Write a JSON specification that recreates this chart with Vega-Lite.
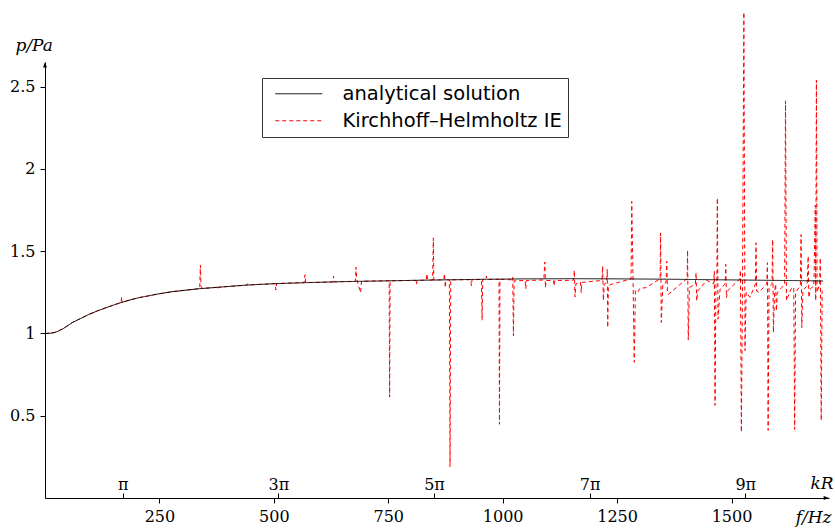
{
  "$schema": "https://vega.github.io/schema/vega-lite/v6.json",
  "width": 784,
  "height": 436,
  "autosize": {"type": "none"},
  "padding": {"left": 45, "top": 62, "right": 6, "bottom": 30},
  "background": "white",
  "config": {
    "view": {"stroke": null},
    "axis": {"grid": false, "domainColor": "black", "tickColor": "black", "labelColor": "black", "titleColor": "black", "labelFont": "DejaVu Serif", "labelFontSize": 16, "titleFont": "DejaVu Serif", "titleFontSize": 17, "titleFontWeight": "normal", "titleFontStyle": "italic", "tickSize": 5, "domainWidth": 1, "tickWidth": 1}
  },
  "datasets": {
    "kh": [
      {"f":0,"p":1.0},{"f":20,"p":1.005},{"f":40,"p":1.03},{"f":60,"p":1.067},{"f":80,"p":1.094},{"f":97,"p":1.117},{"f":115,"p":1.138},{"f":134,"p":1.157},{"f":150,"p":1.173},{"f":166,"p":1.188},{"f":167.5,"p":1.222},{"f":168.5,"p":1.186},{"f":171,"p":1.192},{"f":190,"p":1.207},{"f":206,"p":1.218},{"f":225,"p":1.228},{"f":243,"p":1.238},{"f":260,"p":1.246},{"f":278,"p":1.254},{"f":310,"p":1.264},{"f":338,"p":1.273},{"f":339.5,"p":1.415},{"f":341,"p":1.285},{"f":344,"p":1.274},{"f":375,"p":1.28},{"f":377,"p":1.268},{"f":379,"p":1.281},{"f":388,"p":1.283},{"f":441,"p":1.294},{"f":442.5,"p":1.302},{"f":444,"p":1.295},{"f":497,"p":1.302},{"f":503,"p":1.303},{"f":504.5,"p":1.264},{"f":506,"p":1.304},{"f":566,"p":1.309},{"f":568,"p":1.357},{"f":569.5,"p":1.309},{"f":600,"p":1.311},{"f":629,"p":1.313},{"f":630.5,"p":1.349},{"f":632,"p":1.314},{"f":650,"p":1.315},{"f":678,"p":1.317},{"f":679.5,"p":1.403},{"f":681,"p":1.33},{"f":689.5,"p":1.248},{"f":691.5,"p":1.318},{"f":750,"p":1.32},{"f":752,"p":1.32},{"f":753,"p":0.613},{"f":754,"p":1.32},{"f":810,"p":1.323},{"f":811.5,"p":1.299},{"f":813,"p":1.323},{"f":833,"p":1.324},{"f":834.5,"p":1.363},{"f":836,"p":1.324},{"f":847,"p":1.325},{"f":848.5,"p":1.581},{"f":849.5,"p":1.325},{"f":871,"p":1.326},{"f":873,"p":1.363},{"f":874.5,"p":1.278},{"f":876,"p":1.326},{"f":883.5,"p":1.326},{"f":885,"p":0.19},{"f":886.5,"p":1.326},{"f":930,"p":1.327},{"f":931.5,"p":1.289},{"f":933,"p":1.327},{"f":953.5,"p":1.328},{"f":955,"p":1.081},{"f":956.5,"p":1.328},{"f":963,"p":1.328},{"f":964.5,"p":1.349},{"f":966,"p":1.328},{"f":990,"p":1.329},{"f":992,"p":1.329},{"f":993,"p":0.448},{"f":994,"p":1.329},{"f":1020,"p":1.326},{"f":1022,"p":1.343},{"f":1023.5,"p":0.986},{"f":1025,"p":1.32},{"f":1049,"p":1.322},{"f":1050.5,"p":1.272},{"f":1052,"p":1.322},{"f":1090,"p":1.325},{"f":1092,"p":1.434},{"f":1093.5,"p":1.278},{"f":1095,"p":1.322},{"f":1111,"p":1.322},{"f":1112.5,"p":1.289},{"f":1114,"p":1.322},{"f":1150,"p":1.323},{"f":1155,"p":1.325},{"f":1156.5,"p":1.384},{"f":1158,"p":1.222},{"f":1160,"p":1.3},{"f":1165,"p":1.31},{"f":1170,"p":1.312},{"f":1171.5,"p":1.248},{"f":1173,"p":1.31},{"f":1200,"p":1.318},{"f":1217,"p":1.322},{"f":1218.5,"p":1.41},{"f":1220,"p":1.2},{"f":1222,"p":1.3},{"f":1227,"p":1.31},{"f":1228.5,"p":1.39},{"f":1229.5,"p":1.036},{"f":1231,"p":1.29},{"f":1237,"p":1.298},{"f":1277,"p":1.329},{"f":1280.5,"p":1.33},{"f":1282,"p":1.803},{"f":1285,"p":1.3},{"f":1287.5,"p":0.825},{"f":1290,"p":1.26},{"f":1295,"p":1.25},{"f":1300,"p":1.275},{"f":1313,"p":1.278},{"f":1342,"p":1.329},{"f":1344,"p":1.33},{"f":1345,"p":1.611},{"f":1346.5,"p":1.067},{"f":1350,"p":1.3},{"f":1357,"p":1.31},{"f":1358.5,"p":1.44},{"f":1360,"p":1.248},{"f":1362,"p":1.238},{"f":1401,"p":1.329},{"f":1403,"p":1.33},{"f":1404,"p":1.506},{"f":1405.5,"p":0.96},{"f":1408,"p":1.28},{"f":1421,"p":1.3},{"f":1422.5,"p":1.369},{"f":1424,"p":1.198},{"f":1426,"p":1.258},{"f":1446,"p":1.323},{"f":1461,"p":1.3},{"f":1462.5,"p":1.379},{"f":1464,"p":0.563},{"f":1466,"p":1.3},{"f":1468,"p":1.31},{"f":1469,"p":1.823},{"f":1470.5,"p":1.087},{"f":1475,"p":1.27},{"f":1486,"p":1.3},{"f":1487.5,"p":1.42},{"f":1489,"p":1.218},{"f":1491,"p":1.258},{"f":1515,"p":1.323},{"f":1518,"p":1.33},{"f":1519.5,"p":1.385},{"f":1521.5,"p":0.401},{"f":1524,"p":1.28},{"f":1527,"p":2.952},{"f":1529.5,"p":0.895},{"f":1532,"p":1.25},{"f":1540,"p":1.22},{"f":1548,"p":1.27},{"f":1552,"p":1.3},{"f":1553.5,"p":1.551},{"f":1555,"p":1.258},{"f":1560,"p":1.25},{"f":1570,"p":1.28},{"f":1577,"p":1.3},{"f":1578.5,"p":1.43},{"f":1580,"p":0.411},{"f":1582,"p":1.28},{"f":1588.5,"p":1.3},{"f":1590,"p":1.571},{"f":1591.5,"p":1.006},{"f":1594,"p":1.25},{"f":1596.5,"p":1.3},{"f":1598,"p":1.137},{"f":1600,"p":1.25},{"f":1610,"p":1.28},{"f":1616,"p":1.3},{"f":1618,"p":2.414},{"f":1620,"p":1.2},{"f":1630,"p":1.27},{"f":1636,"p":1.28},{"f":1638,"p":0.417},{"f":1640,"p":1.25},{"f":1648,"p":1.28},{"f":1650.5,"p":1.3},{"f":1652,"p":1.601},{"f":1653.5,"p":1.036},{"f":1656,"p":1.26},{"f":1665,"p":1.29},{"f":1667.5,"p":1.47},{"f":1669,"p":1.218},{"f":1672,"p":1.27},{"f":1680,"p":1.29},{"f":1683,"p":1.78},{"f":1684,"p":1.2},{"f":1685.5,"p":2.54},{"f":1687,"p":1.25},{"f":1692.5,"p":1.3},{"f":1694,"p":1.46},{"f":1696,"p":0.472},{"f":1698,"p":1.26}
    ],
    "analytical": [
      {"f":0,"p":1.0},{"f":10,"p":1.001},{"f":20,"p":1.005},{"f":30,"p":1.015},{"f":40,"p":1.03},{"f":50,"p":1.048},{"f":60,"p":1.067},{"f":80,"p":1.094},{"f":97,"p":1.117},{"f":115,"p":1.138},{"f":134,"p":1.157},{"f":150,"p":1.173},{"f":169,"p":1.19},{"f":190,"p":1.207},{"f":206,"p":1.218},{"f":225,"p":1.228},{"f":243,"p":1.238},{"f":260,"p":1.246},{"f":278,"p":1.254},{"f":310,"p":1.264},{"f":337,"p":1.272},{"f":388,"p":1.283},{"f":440,"p":1.294},{"f":497,"p":1.302},{"f":571,"p":1.309},{"f":650,"p":1.315},{"f":750,"p":1.32},{"f":850,"p":1.325},{"f":950,"p":1.329},{"f":1050,"p":1.332},{"f":1150,"p":1.333},{"f":1250,"p":1.332},{"f":1350,"p":1.33},{"f":1450,"p":1.327},{"f":1550,"p":1.324},{"f":1650,"p":1.321},{"f":1700,"p":1.319}
    ]
  },
  "resolve": {"axis": {"x": "independent"}},
  "layer": [
    {
      "data": {"name": "kh"},
      "transform": [{"calculate": "'Kirchhoff–Helmholtz IE'", "as": "series"}],
      "mark": {"type": "line", "strokeWidth": 1, "clip": false},
      "encoding": {
        "x": {"field": "f", "type": "quantitative", "scale": {"domain": [0, 1713], "nice": false, "zero": false},
          "axis": {"orient": "bottom", "values": [250, 500, 750, 1000, 1250, 1500], "format": "d", "labelPadding": 5, "title": "f/Hz", "titleAlign": "right", "titleX": 786, "titleY": 24, "titleBaseline": "alphabetic", "titleAnchor": null}},
        "y": {"field": "p", "type": "quantitative", "scale": {"domain": [0, 2.65], "nice": false, "zero": false},
          "axis": {"values": [0.5, 1, 1.5, 2, 2.5], "format": "~g", "labelPadding": 5, "title": "p/Pa", "titleAngle": 0, "titleAlign": "left", "titleX": -30, "titleY": -12, "titleBaseline": "alphabetic", "titleAnchor": null}},
        "color": {"field": "series", "type": "nominal", "scale": {"domain": ["analytical solution", "Kirchhoff–Helmholtz IE"], "range": ["black", "red"]},
          "legend": {"orient": "none", "legendX": 217, "legendY": 16, "title": null, "strokeColor": "#333", "fillColor": "white", "padding": 6, "labelFont": "DejaVu Sans", "labelFontSize": 19.5, "labelColor": "black", "labelLimit": 0, "symbolType": "M-0.333,0H5.933", "symbolSize": 225, "symbolStrokeWidth": 1, "labelOffset": 55, "rowPadding": 6}},
        "strokeDash": {"field": "series", "type": "nominal", "scale": {"domain": ["analytical solution", "Kirchhoff–Helmholtz IE"], "range": [[1, 0], [4, 3]]}, "legend": {"orient": "none", "legendX": 217, "legendY": 16, "title": null}}
      }
    },
    {
      "data": {"name": "analytical"},
      "transform": [{"calculate": "'analytical solution'", "as": "series"}],
      "mark": {"type": "line", "strokeWidth": 1, "clip": false},
      "encoding": {
        "x": {"field": "f", "type": "quantitative",
          "axis": {"orient": "top", "offset": -436, "domain": false, "values": [170, 510, 850, 1190, 1530], "labelExpr": "datum.value == 170 ? 'π' : round(datum.value / 170) + 'π'", "labelPadding": 1, "title": "kR", "titleAlign": "right", "titleX": 788, "titleY": -10, "titleBaseline": "alphabetic", "titleAnchor": null}},
        "y": {"field": "p", "type": "quantitative"},
        "color": {"field": "series", "type": "nominal"},
        "strokeDash": {"field": "series", "type": "nominal"}
      }
    },
    {
      "data": {"values": [{}]},
      "mark": {"type": "point", "filled": true, "color": "black", "size": 40, "shape": "M0,0L-0.6,1.7L0.6,1.7Z", "opacity": 1},
      "encoding": {"x": {"datum": 0, "axis": null}, "y": {"datum": 2.65}}
    },
    {
      "data": {"values": [{}]},
      "mark": {"type": "point", "filled": true, "color": "black", "size": 40, "shape": "M0,0L-1.7,-0.6L-1.7,0.6Z", "opacity": 1},
      "encoding": {"x": {"datum": 1713, "axis": null}, "y": {"datum": 0}}
    }
  ]
}
